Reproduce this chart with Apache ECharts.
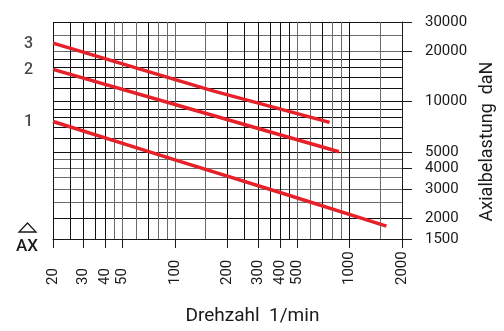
<!DOCTYPE html>
<html>
<head>
<meta charset="utf-8">
<script src="https://cdn.jsdelivr.net/npm/echarts@6/dist/echarts.min.js"></script>
<style>
html,body{margin:0;padding:0;background:#fff;}
#chart{width:504px;height:331px;}
</style>
</head>
<body>
<div id="chart"></div>
<script>
// Tick labels
const xLabelValues = [20, 30, 40, 50, 100, 200, 300, 400, 500, 1000, 2000];
const yLabelValues = [1500, 2000, 3000, 4000, 5000, 10000, 20000, 30000];
// Grid line values
const xGridDark = [20, 25, 30, 35, 40, 70, 200, 250, 300, 350, 400, 450, 700, 1000, 2000];
const xGridGray = [45, 50, 60, 80, 90, 100, 150, 500, 600, 800, 900, 1500];
const yGridDark = [30000, 18000, 16000, 14000, 12000, 10000, 9000, 8000, 7000, 6000, 5000, 2000];
const yGridGray = [25000, 20000, 4500, 4000, 3500, 3000, 2500, 1500];
// Curves: [Drehzahl, Axialbelastung]
const curveNames = ['1', '2', '3'];
const curve1 = [[20, 7600], [100, 4470], [400, 2850], [1630, 1790]];
const curve2 = [[20, 15600], [100, 9600], [870, 5000]];
const curve3 = [[20, 22400], [165, 11600], [770, 7500]];
const curves = [curve1, curve2, curve3];

const FONT = 'Roboto, "Liberation Sans", sans-serif';
const TXT = '#1a1a1a';

function gridAxis(values, color, pos) {
  return {
    type: 'log', logBase: 10, position: pos,
    min: pos === 'bottom' ? 20 : 1500,
    max: pos === 'bottom' ? 2000 : 30000,
    axisLine: {show: false},
    axisLabel: {show: false},
    axisTick: {show: false, customValues: values},
    splitLine: {show: true, lineStyle: {color: color, width: 1}}
  };
}

const chart = echarts.init(document.getElementById('chart'));
chart.setOption({
  animation: false,
  backgroundColor: '#fff',
  grid: {left: 53, top: 22, width: 353, height: 230, containLabel: false},
  xAxis: [
    {
      type: 'log', logBase: 10, position: 'bottom', min: 20, max: 2000,
      name: 'Drehzahl  1/min', nameLocation: 'middle', nameGap: 68,
      nameTextStyle: {fontFamily: FONT, fontSize: 19, color: TXT, padding: [0, 0, 0, 50]},
      axisLine: {show: true, lineStyle: {color: TXT, width: 1}},
      axisTick: {show: true, length: 9, customValues: xLabelValues, lineStyle: {color: TXT, width: 1}},
      axisLabel: {
        show: true, customValues: xLabelValues, rotate: 90, margin: 46,
        align: 'left', verticalAlign: 'middle',
        fontFamily: FONT, fontSize: 15, color: TXT,
        formatter: v => String(Math.round(v))
      },
      splitLine: {show: false}
    },
    gridAxis(xGridDark, '#111', 'bottom'),
    gridAxis(xGridGray, '#6a6a6a', 'bottom')
  ],
  yAxis: [
    {
      type: 'log', logBase: 10, position: 'right', min: 1500, max: 30000,
      name: 'Axialbelastung  daN', nameLocation: 'middle', nameGap: 74, nameRotate: 90,
      nameTextStyle: {fontFamily: FONT, fontSize: 18, color: TXT, padding: [0, 22, 0, 0]},
      axisLine: {show: true, lineStyle: {color: TXT, width: 1}},
      axisTick: {show: true, length: 10, customValues: yLabelValues, lineStyle: {color: TXT, width: 1}},
      axisLabel: {
        show: true, customValues: yLabelValues, margin: 23,
        fontFamily: FONT, fontSize: 15, color: TXT,
        formatter: v => String(Math.round(v))
      },
      splitLine: {show: false}
    },
    gridAxis(yGridDark, '#111', 'right'),
    gridAxis(yGridGray, '#6a6a6a', 'right')
  ],
  graphic: [
    {type: 'polygon', shape: {points: [[19, 232], [36, 232], [27.5, 223]]},
     style: {fill: 'none', stroke: TXT, lineWidth: 1.3}},
    {type: 'text', x: 27, y: 247, style: {text: 'AX', font: '500 17px ' + FONT, fill: TXT, align: 'center', verticalAlign: 'middle'}}
  ],
  series: curves.map((c, i) => ({
    type: 'line', name: curveNames[i], xAxisIndex: 0, yAxisIndex: 0,
    showSymbol: false, symbol: 'none', smooth: false,
    lineStyle: {color: '#e62129', width: 3.5},
    data: c
  })).concat([{
    type: 'scatter', name: 'labels', xAxisIndex: 0, yAxisIndex: 0,
    symbolSize: 0, silent: true,
    data: curves.map((c, i) => ({value: c[0], name: curveNames[i]})),
    label: {show: true, position: 'left', distance: 20, offset: [0, 1], formatter: p => p.name,
            fontFamily: FONT, fontSize: 16, fontWeight: 500, color: TXT}
  }])
});
</script>
</body>
</html>
